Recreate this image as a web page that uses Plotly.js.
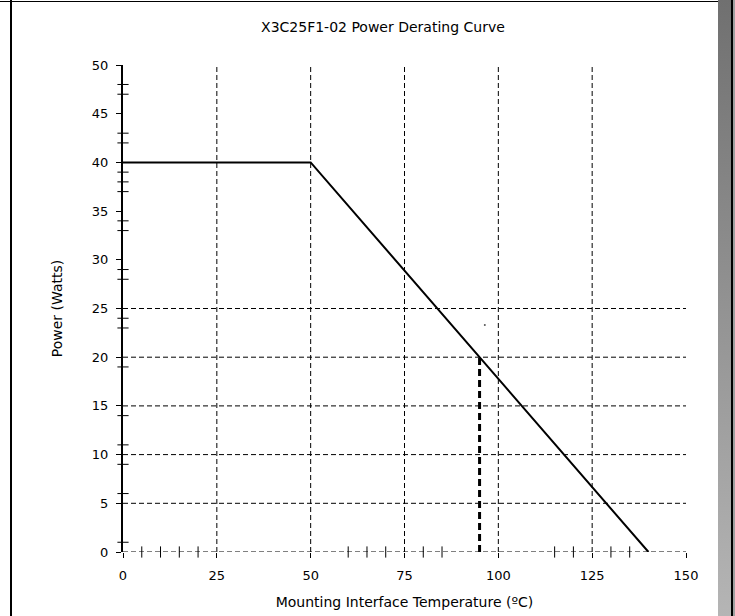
<!DOCTYPE html>
<html>
<head>
<meta charset="utf-8">
<script src="https://cdn.plot.ly/plotly-3.0.1.min.js"></script>
<style>
  html, body { margin: 0; padding: 0; background: #ffffff; }
  #wrap { position: relative; width: 735px; height: 616px; overflow: hidden; }
  #chart { position: absolute; left: 0; top: 0; width: 735px; height: 616px; }
  .frame { position: absolute; pointer-events: none; }
</style>
</head>
<body>
<div id="wrap">
  <div id="chart"></div>
  <div class="frame" style="left:10px;top:0;width:2px;height:616px;background:#000;"></div>
  <div class="frame" style="left:0;top:1px;width:733px;height:1px;background:#000;"></div>
  <div class="frame" style="left:718px;top:0;width:13px;height:616px;background:linear-gradient(#707070,#b5b5b5);"></div>
  <div class="frame" style="left:731px;top:0;width:2px;height:616px;background:#000;"></div>
  <div class="frame" style="left:733px;top:0;width:2px;height:616px;background:#a0a0a0;"></div>
</div>
<script>
// Derating curve (temperature in °C, power in W)
const curveTemp  = [0, 50, 140];
const curvePower = [40, 40, 0];

// Highlighted operating point drop line
const refTemp  = [95, 95];
const refPower = [0, 20];

// Stray dot visible in the original figure
const dotTemp  = [96.4];
const dotPower = [23.3];

// Axis ticks
const xTicks = [0, 25, 50, 75, 100, 125, 150];
const yTicks = [0, 5, 10, 15, 20, 25, 30, 35, 40, 45, 50];

// Irregular minor tick marks seen on the axes
const xMinor = [5, 10, 15, 20, 60, 65, 70, 80, 85, 115, 120, 130, 135];
const yMinor = [1, 6, 9, 11, 14, 19, 23, 24, 28, 29, 33, 34, 37, 38, 39, 42, 43, 47, 48];

// Dashed grid lines
const gridX = [25, 50, 75, 100, 125];
const gridY = [5, 10, 15, 20, 25];

const FONT = 'DejaVu Sans, Liberation Sans, Arial, sans-serif';
const dashGrid = '5px,3px';

const shapes = [];
gridX.forEach(v => shapes.push({
  type: 'line', xref: 'x', yref: 'y', x0: v, x1: v, y0: 0, y1: 50,
  line: {color: '#000', width: 1, dash: dashGrid}, layer: 'below'
}));
gridY.forEach(v => shapes.push({
  type: 'line', xref: 'x', yref: 'y', x0: 0, x1: 150, y0: v, y1: v,
  line: {color: '#000', width: 1, dash: dashGrid}, layer: 'below'
}));
// dashed x axis baseline
shapes.push({
  type: 'line', xref: 'x', yref: 'y', x0: 0, x1: 150, y0: 0, y1: 0,
  line: {color: '#000', width: 1, dash: dashGrid}, layer: 'below'
});

const traces = [
  {
    x: curveTemp, y: curvePower, type: 'scatter', mode: 'lines',
    line: {color: '#000', width: 2}, hoverinfo: 'skip', showlegend: false
  },
  {
    x: refTemp, y: refPower, type: 'scatter', mode: 'lines',
    line: {color: '#000', width: 3, dash: '7px,4px'}, hoverinfo: 'skip', showlegend: false
  },
  {
    x: dotTemp, y: dotPower, type: 'scatter', mode: 'markers',
    marker: {color: '#555', size: 2}, hoverinfo: 'skip', showlegend: false
  },
  {
    x: xMinor, y: xMinor.map(() => 0), type: 'scatter', mode: 'markers', cliponaxis: false,
    marker: {symbol: 'line-ns-open', size: 8, color: '#000', line: {color: '#000', width: 1}},
    hoverinfo: 'skip', showlegend: false
  },
  {
    x: yMinor.map(() => 0), y: yMinor, type: 'scatter', mode: 'markers', cliponaxis: false,
    marker: {symbol: 'line-ew-open', size: 8, color: '#000', line: {color: '#000', width: 1}},
    hoverinfo: 'skip', showlegend: false
  }
];

const layout = {
  width: 735, height: 616,
  margin: {l: 123, r: 49, t: 65, b: 64, pad: 0},
  paper_bgcolor: 'rgba(0,0,0,0)', plot_bgcolor: 'rgba(0,0,0,0)',
  font: {family: FONT, color: '#000', size: 13},
  title: {
    text: 'X3C25F1-02 Power Derating Curve',
    font: {family: FONT, size: 14, color: '#000'},
    xref: 'container', yref: 'container', x: 0.521, y: 0.956,
    xanchor: 'center', yanchor: 'middle'
  },
  xaxis: {
    range: [0, 150], tickmode: 'array', tickvals: xTicks,
    ticks: 'outside', ticklen: 5, tickwidth: 1, tickcolor: '#000',
    showline: false, showgrid: false, zeroline: false,
    tickfont: {family: FONT, size: 13, color: '#000'},
    ticklabelstandoff: 6,
    title: {text: 'Mounting Interface Temperature (ºC)', font: {family: FONT, size: 14, color: '#000'}, standoff: 15},
    fixedrange: true
  },
  yaxis: {
    range: [0, 50], tickmode: 'array', tickvals: yTicks,
    ticks: 'outside', ticklen: 5, tickwidth: 1, tickcolor: '#000',
    showline: true, linecolor: '#000', linewidth: 2,
    showgrid: false, zeroline: false,
    tickfont: {family: FONT, size: 13, color: '#000'},
    ticklabelstandoff: 5,
    title: {text: 'Power (Watts)', font: {family: FONT, size: 14, color: '#000'}, standoff: 26},
    fixedrange: true
  },
  shapes: shapes
};

Plotly.newPlot('chart', traces, layout, {displayModeBar: false, staticPlot: true});
</script>
</body>
</html>
